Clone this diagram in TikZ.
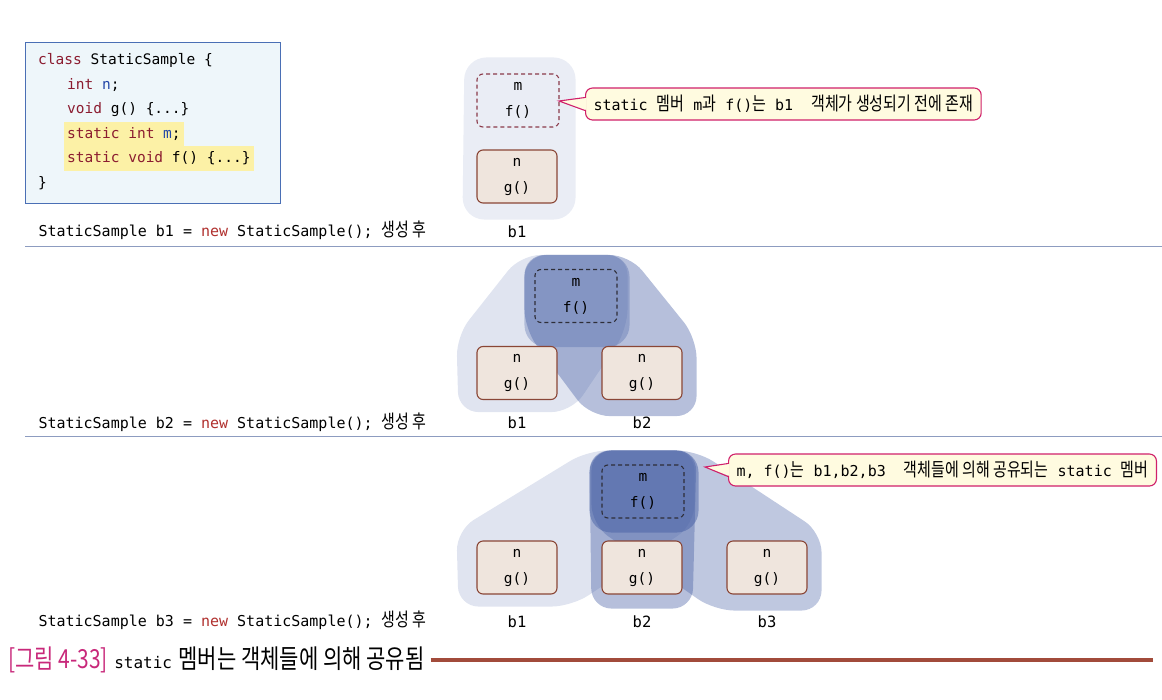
\documentclass[tikz,border=0pt]{standalone}
\usepackage{fontspec}
\setmonofont{DejaVu Sans Mono}
\newfontfamily\krfont[FakeStretch=0.8,Scale=1.25]{Noto Sans CJK KR}
\usetikzlibrary{calc,backgrounds}

\definecolor{codefill}{HTML}{EEF6FA}
\definecolor{codeborder}{HTML}{4A6FB5}
\definecolor{kw}{HTML}{8B1C30}
\definecolor{var}{HTML}{2246A8}
\definecolor{hl}{HTML}{FCF1A6}
\definecolor{newred}{HTML}{B0302E}
\definecolor{boxfill}{HTML}{EFE5DD}
\definecolor{boxline}{HTML}{8A4636}
\definecolor{statred}{HTML}{8B3A4A}
\definecolor{statdark}{HTML}{2E2E38}
\definecolor{blobbase}{HTML}{3E58A0}
\definecolor{calloutfill}{HTML}{FFFBE0}
\definecolor{calloutline}{HTML}{D0206A}
\definecolor{sepline}{HTML}{8D9CC0}
\definecolor{capmag}{HTML}{C8287A}
\definecolor{caprule}{HTML}{A24B3B}

\newcommand{\kr}[1]{{\krfont #1}}

\begin{document}
\begin{tikzpicture}[
    x=1pt, y=-1pt,
    codebox/.style={draw=codeborder, fill=codefill, line width=1pt, anchor=north west, minimum width=255, minimum height=161},
    codetext/.style={anchor=west, inner xsep=3, inner ysep=0, minimum height=24.6, font=\ttfamily\fontsize{14.5}{17}\selectfont},
    hlrow/.style={codetext, fill=hl},
    objbox/.style={draw=boxline, fill=boxfill, line width=1.1pt, rounded corners=6, minimum width=80, minimum height=53, align=center, font=\ttfamily\fontsize{14.5}{26}\selectfont},
    statbox/.style={objbox, fill=none, dash pattern=on 4pt off 3pt, minimum width=82},
    objlabel/.style={font=\ttfamily\fontsize{15.5}{18}\selectfont},
    rowlabel/.style={anchor=west, font=\ttfamily\fontsize{15}{18}\selectfont},
    callout/.style={draw=calloutline, fill=calloutfill, line width=1.1pt, rounded corners=7, anchor=west, minimum height=32, inner xsep=8, font=\ttfamily\fontsize{15}{18}\selectfont},
    pointer/.style={draw=calloutline, line width=1.1pt},
    blobT/.style={fill=blobbase, fill opacity=0.11, rounded corners=22},
    blobA/.style={fill=blobbase, fill opacity=0.16, rounded corners=20},
    blobB/.style={fill=blobbase, fill opacity=0.38, rounded corners=20},
    blobC/.style={fill=blobbase, fill opacity=0.33, rounded corners=20},
    blobS/.style={fill=blobbase, fill opacity=0.3, rounded corners=22},
    sep/.style={draw=sepline, line width=0.8pt},
    rule/.style={draw=caprule, line width=3.5pt, shorten <=6pt}
]
\useasboundingbox (0,0) rectangle (1162,699);

% class code
\node[codebox] (code) at (25,42) {};
\node[codetext] (l1) at (35,60) {\textcolor{kw}{class} StaticSample \{};
\node[codetext] (l2) at (64,84.6) {\textcolor{kw}{int} \textcolor{var}{n};};
\node[codetext] (l3) at (64,109.2) {\textcolor{kw}{void} g() \{...\}};
\node[hlrow] (l4) at (64,133.8) {\textcolor{kw}{static int} \textcolor{var}{m};};
\node[hlrow] (l5) at (64,158.4) {\textcolor{kw}{static void} f() \{...\}};
\node[codetext] (l6) at (35,183) {\}};

% after b1
\node[statbox, draw=statred] (s1) at (518,100.5) {m\\f()};
\node[objbox] (b1) at (517,176.5) {n\\g()};
\node[objlabel] (t1) at (517,232) {b1};
\node[rowlabel] (r1) at (35,230) {StaticSample b1 = \textcolor{newred}{new} StaticSample(); \kr{생성 후}};
\node[callout] (c1) at (585,104) {static \kr{멤버} m\kr{과} f()\kr{는} b1\ \ \kr{객체가 생성되기 전에 존재}};
\coordinate (tip1) at (559,101);
\fill[calloutfill] ($(c1.west)+(1.5,-6)$) -- (tip1) -- ($(c1.west)+(1.5,6)$) -- cycle;
\draw[pointer] ($(c1.west)+(0,-6.5)$) -- (tip1) -- ($(c1.west)+(0,6.5)$);

\coordinate (sep1a) at (25,246);
\coordinate (sep1b) at (1162,246);
\draw[sep] (sep1a) -- (sep1b);

% after b2
\node[statbox, draw=statdark] (s2) at (576,296) {m\\f()};
\node[objbox] (m1) at (517,373) {n\\g()};
\node[objbox] (m2) at (642,373) {n\\g()};
\node[objlabel] (u1) at (517,423) {b1};
\node[objlabel] (u2) at (642,423) {b2};
\node[rowlabel] (r2) at (35,422) {StaticSample b2 = \textcolor{newred}{new} StaticSample(); \kr{생성 후}};

\coordinate (sep2a) at (25,436);
\coordinate (sep2b) at (1162,436);
\draw[sep] (sep2a) -- (sep2b);

% after b3
\node[statbox, draw=statdark] (s3) at (643,491.5) {m\\f()};
\node[objbox] (n1) at (517,567.5) {n\\g()};
\node[objbox] (n2) at (642,567.5) {n\\g()};
\node[objbox] (n3) at (767,567.5) {n\\g()};
\node[objlabel] (v1) at (517,622) {b1};
\node[objlabel] (v2) at (642,622) {b2};
\node[objlabel] (v3) at (767,622) {b3};
\node[rowlabel] (r3) at (35,620) {StaticSample b3 = \textcolor{newred}{new} StaticSample(); \kr{생성 후}};
\node[callout] (c2) at (728,470) {m, f()\kr{는} b1,b2,b3\ \ \kr{객체들에 의해 공유되는} static \kr{멤버}};
\coordinate (tip2) at (705,467);
\fill[calloutfill] ($(c2.west)+(1.5,-6)$) -- (tip2) -- ($(c2.west)+(1.5,6)$) -- cycle;
\draw[pointer] ($(c2.west)+(0,-6.5)$) -- (tip2) -- ($(c2.west)+(0,6.5)$);

% caption
\node[anchor=west, inner sep=0, font=\fontsize{21}{24}\selectfont] (cap) at (8,660) {\textcolor{capmag}{\kr{[그림 4-33]}} {\ttfamily\fontsize{16}{18}\selectfont static} \kr{멤버는 객체들에 의해 공유됨}};
\coordinate (capend) at (1153,660);
\draw[rule] (cap.east) -- (capend);

% shared areas
\begin{scope}[on background layer]
\fill[blobT] ($(s1.north west)+(-12,-16)$) -- ($(s1.north east)+(16,-16)$) -- ($(b1.south east)+(18,16)$) -- ($(b1.south west)+(-14,16)$) -- cycle;

\fill[blobA] ($(s2.north west)+(-14,-14)$) -- ($(s2.north east)+(10,-14)$) -- ($(s2.south east)+(10,6)$) -- ($(m1.south east)+(14,12)$) -- ($(m1.south west)+(-18,12)$) -- ($(m1.north west)+(-20,-10)$) -- cycle;
\fill[blobB] ($(s2.north west)+(-10,-14)$) -- ($(s2.north east)+(12,-14)$) -- ($(m2.north east)+(14,-8)$) -- ($(m2.south east)+(14,16)$) -- ($(m2.south west)+(-12,16)$) -- ($(s2.south west)+(-10,6)$) -- cycle;
\fill[blobS] ($(s2.north west)+(-10,-14)$) rectangle ($(s2.south east)+(12,24)$);

\fill[blobA] ($(s3.north west)+(-14,-14)$) -- ($(s3.north east)+(10,-14)$) -- ($(s3.south east)+(10,6)$) -- ($(n1.south east)+(14,12)$) -- ($(n1.south west)+(-18,12)$) -- ($(n1.north west)+(-20,-10)$) -- cycle;
\fill[blobB] ($(s3.north west)+(-12,-14)$) -- ($(s3.north east)+(12,-14)$) -- ($(n2.south east)+(10,14)$) -- ($(n2.south west)+(-10,14)$) -- cycle;
\fill[blobC] ($(s3.north west)+(-10,-14)$) -- ($(s3.north east)+(12,-14)$) -- ($(n3.north east)+(14,-8)$) -- ($(n3.south east)+(14,16)$) -- ($(n3.south west)+(-12,16)$) -- ($(s3.south west)+(-10,6)$) -- cycle;
\fill[blobS, fill opacity=0.45] ($(s3.north west)+(-12,-14)$) rectangle ($(s3.south east)+(14,14)$);
\end{scope}

\end{tikzpicture}
\end{document}
